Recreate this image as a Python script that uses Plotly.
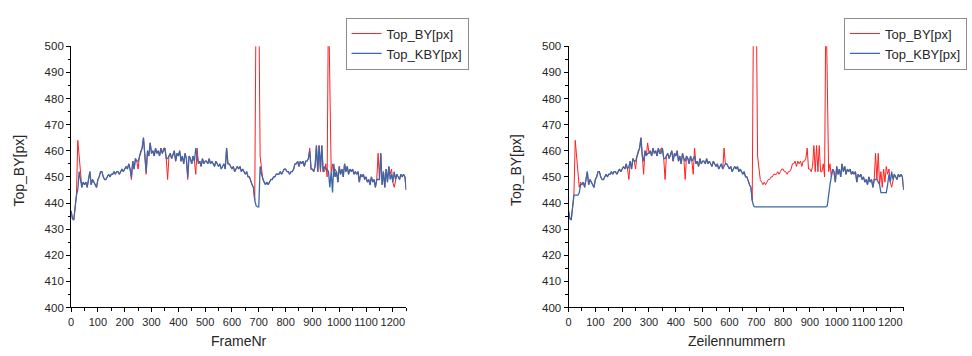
import plotly.graph_objects as go

# Frame / line index (every 5th frame)
frames = list(range(0, 1255, 5))

# Top_BY[px] - raw top edge
top_by = [
    437, 434, 433.5, 440, 443, 464, 457, 452, 446, 448,
    447, 448, 446, 449, 452, 447, 449, 448, 447, 446,
    449, 450, 452, 452, 450, 449, 449, 450, 451, 450,
    451, 451, 452, 451, 452, 452, 451, 452, 453, 452,
    453, 454, 453, 455, 453, 449, 456, 453, 457, 456,
    453, 458, 460, 461, 465, 458, 451, 460, 458, 463,
    459, 460, 458, 461, 459, 460, 458, 461, 459, 461,
    461, 457, 449, 458, 459, 457, 459, 460, 456, 459,
    458, 460, 456, 458, 455, 459, 457, 449, 458, 457,
    455, 458, 456, 451, 461, 455, 456, 454, 457, 455,
    456, 456, 455, 457, 455, 456, 455, 454, 456, 455,
    454, 455, 453, 454, 455, 453, 461, 455, 455, 454,
    453, 454, 452, 453, 454, 453, 454, 452, 453, 452,
    451, 452, 450, 450, 448, 447, 446, 441, 520, 520,
    520, 458, 452, 449, 448, 447, 448, 447, 448, 449,
    449, 450, 450, 451, 451, 451, 452, 451, 452, 453,
    453, 452, 452, 451, 452, 452, 453, 455, 455, 456,
    454, 456, 455, 456, 454, 456, 456, 457, 461, 453,
    453, 452, 454, 462, 452, 462, 452, 462, 452, 452,
    455, 450, 520, 477, 452, 455, 450, 453, 452, 448,
    454, 451, 453, 450, 455, 452, 454, 451, 453, 452,
    453, 451, 452, 451, 452, 448, 451, 450, 451, 449,
    450, 448, 449, 447, 450, 448, 449, 446, 449, 459,
    449, 459, 447, 452, 446, 453, 448, 454, 451, 453,
    448, 446, 449, 451, 450, 449, 451, 450, 451, 450,
    445,
]

# Top_KBY[px] - corrected top edge, plotted against FrameNr
top_kby_frame = [
    437, 434, 433.5, 440, 443, 445, 452, 449, 446, 448,
    447, 448, 446, 449, 452, 447, 449, 448, 447, 446,
    449, 450, 452, 452, 450, 449, 449, 450, 451, 450,
    451, 451, 452, 451, 452, 452, 451, 452, 453, 452,
    453, 454, 453, 455, 453, 450, 456, 453, 457, 456,
    456, 458, 460, 461, 465, 458, 452, 460, 458, 463,
    459, 460, 458, 461, 459, 460, 458, 461, 459, 460,
    461, 457, 457, 458, 459, 457, 459, 460, 456, 459,
    458, 460, 456, 458, 455, 459, 457, 450, 458, 457,
    455, 458, 456, 461, 458, 455, 456, 454, 457, 455,
    456, 456, 455, 457, 455, 456, 455, 454, 456, 455,
    454, 455, 453, 454, 455, 453, 461, 455, 455, 454,
    453, 454, 452, 453, 454, 453, 454, 452, 453, 452,
    451, 452, 450, 450, 448, 447, 446, 441, 439, 438.5,
    438.5, 454, 451, 449, 448, 447, 448, 447, 448, 449,
    449, 450, 450, 451, 451, 451, 452, 451, 452, 453,
    453, 452, 452, 451, 452, 452, 453, 455, 455, 456,
    454, 456, 455, 456, 454, 456, 456, 457, 460, 453,
    453, 452, 454, 462, 452, 462, 453, 462, 452, 454,
    453, 453, 452, 446, 452, 444, 455, 450, 452, 448,
    454, 451, 453, 450, 455, 452, 454, 451, 453, 452,
    453, 451, 452, 451, 452, 448, 451, 450, 451, 449,
    450, 448, 449, 447, 450, 448, 449, 446, 449, 449,
    449, 459, 447, 452, 446, 453, 448, 454, 449, 451,
    448, 452, 449, 451, 450, 449, 451, 450, 451, 450,
    445,
]

# Top_KBY[px] - corrected top edge, plotted against Zeilennummern
top_kby_zeile = [
    437, 434, 433.5, 440, 443, 443, 443, 443, 444, 447,
    447, 448, 446, 449, 452, 447, 449, 448, 447, 446,
    449, 450, 452, 452, 450, 449, 449, 450, 451, 450,
    451, 451, 452, 451, 452, 452, 451, 452, 453, 452,
    453, 454, 453, 455, 453, 454, 456, 453, 457, 456,
    456, 458, 460, 461, 465, 458, 456, 460, 458, 459,
    459, 460, 458, 461, 459, 460, 458, 461, 459, 459,
    461, 457, 457, 458, 459, 457, 459, 460, 456, 459,
    458, 460, 456, 458, 455, 459, 457, 456, 458, 457,
    455, 458, 456, 457, 458, 455, 456, 454, 457, 455,
    456, 456, 455, 457, 455, 456, 455, 454, 456, 455,
    454, 455, 453, 454, 455, 453, 454, 455, 455, 454,
    453, 454, 452, 453, 454, 453, 454, 452, 453, 452,
    451, 452, 450, 450, 448, 447, 446, 441, 439, 438.5,
    438.5, 438.5, 438.5, 438.5, 438.5, 438.5, 438.5, 438.5, 438.5, 438.5,
    438.5, 438.5, 438.5, 438.5, 438.5, 438.5, 438.5, 438.5, 438.5, 438.5,
    438.5, 438.5, 438.5, 438.5, 438.5, 438.5, 438.5, 438.5, 438.5, 438.5,
    438.5, 438.5, 438.5, 438.5, 438.5, 438.5, 438.5, 438.5, 438.5, 438.5,
    438.5, 438.5, 438.5, 438.5, 438.5, 438.5, 438.5, 438.5, 438.5, 438.5,
    438.5, 438.5, 438.5, 439, 444, 447, 450, 453, 452, 448,
    454, 451, 453, 450, 455, 452, 454, 451, 453, 452,
    453, 451, 452, 451, 452, 448, 451, 450, 451, 449,
    450, 448, 449, 447, 450, 448, 449, 446, 449, 449,
    449, 448, 447, 444, 444, 444, 444, 444, 447, 451,
    448, 452, 449, 451, 450, 449, 451, 450, 451, 450,
    445,
]

x_titles = ["FrameNr", "Zeilennummern"]
y_title = "Top_BY[px]"
series_names = ["Top_BY[px]", "Top_KBY[px]"]

RED = "#ff2020"
BLUE = "#3a68aa"
FONT = "Liberation Sans, Arial, sans-serif"
TXT = "#262626"

fig = go.Figure()

panels = [
    ("x", "y", "legend", top_kby_frame),
    ("x2", "y2", "legend2", top_kby_zeile),
]
for xa, ya, lg, kby in panels:
    fig.add_trace(go.Scatter(
        x=frames, y=top_by, mode="lines", name=series_names[0],
        line=dict(color=RED, width=1), xaxis=xa, yaxis=ya, legend=lg,
    ))
    fig.add_trace(go.Scatter(
        x=frames, y=kby, mode="lines", name=series_names[1],
        line=dict(color=BLUE, width=1.3), xaxis=xa, yaxis=ya, legend=lg,
    ))

W, H = 972, 356
y_dom = [(H - 312) / H, (H - 41.7) / H]
x_doms = [[68.3 / W, 404.5 / W], [567.3 / W, 903.5 / W]]

axis_common = dict(
    showline=True, linecolor="#000", linewidth=1, mirror=False,
    showgrid=False, zeroline=False, ticks="outside", ticklen=4,
    tickwidth=1, tickcolor="#000", tickangle=0,
    tickfont=dict(family=FONT, size=11, color=TXT),
    minor=dict(ticks="outside", ticklen=2.5, tickwidth=1, tickcolor="#000"),
)

layout = dict(
    width=W, height=H,
    margin=dict(l=0, r=0, t=0, b=0),
    paper_bgcolor="white", plot_bgcolor="white",
    font=dict(family=FONT, color=TXT),
    showlegend=True,
)

for i, (xd, xt) in enumerate(zip(x_doms, x_titles)):
    sx = "" if i == 0 else "2"
    layout["xaxis" + sx] = dict(
        axis_common, domain=xd, range=[0, 1250], tickmode="linear",
        tick0=0, dtick=100, minor=dict(axis_common["minor"], dtick=50),
        anchor="y" + sx,
    )
    layout["yaxis" + sx] = dict(
        axis_common, domain=y_dom, range=[400, 500], tickmode="linear",
        tick0=400, dtick=10, minor=dict(axis_common["minor"], dtick=5),
        anchor="x" + sx, tickfont=dict(family=FONT, size=11.5, color=TXT),
    )

legend_style = dict(
    bgcolor="white", bordercolor="#8c8c8c", borderwidth=1,
    font=dict(family=FONT, size=13, color=TXT),
    xanchor="right", yanchor="top", y=(H - 12) / H,
    tracegroupgap=0, itemwidth=30,
)
layout["legend"] = dict(legend_style, x=467 / W)
layout["legend2"] = dict(legend_style, x=967 / W)

fig.update_layout(**layout)

# Axis titles
for xd, xt in zip(x_doms, x_titles):
    fig.add_annotation(
        text=xt, xref="paper", yref="paper",
        x=(xd[0] + xd[1]) / 2, y=(H - 347) / H,
        showarrow=False, xanchor="center", yanchor="middle",
        font=dict(family=FONT, size=14, color=TXT),
    )
    fig.add_annotation(
        text=y_title, xref="paper", yref="paper",
        x=xd[0] - 52 / W, y=(H - 170) / H, textangle=-90,
        showarrow=False, xanchor="center", yanchor="middle",
        font=dict(family=FONT, size=14, color=TXT),
    )

fig.write_html("out.html")
